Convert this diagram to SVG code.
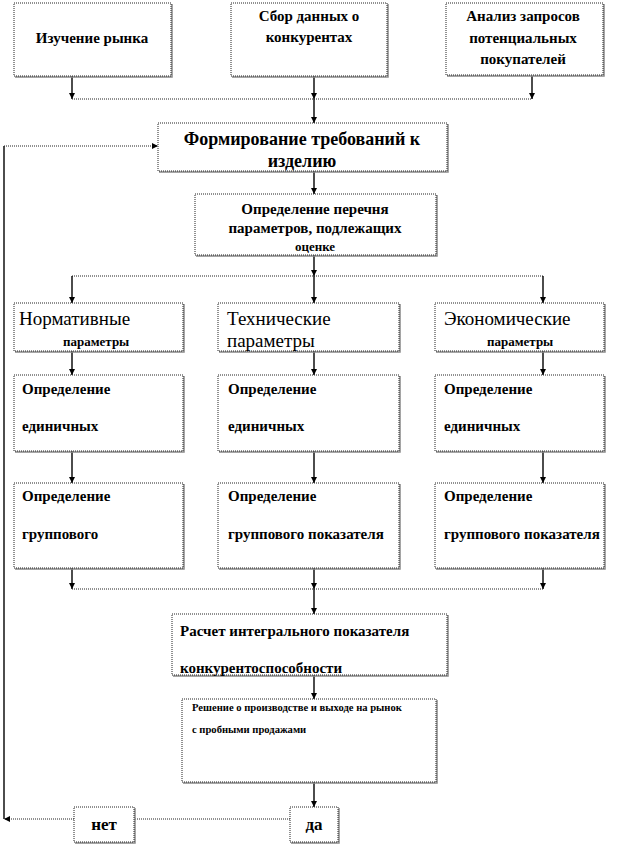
<svg xmlns="http://www.w3.org/2000/svg" width="617" height="846" viewBox="0 0 617 846">
<style>
.box{fill:#fff;stroke:#222;stroke-width:1;stroke-dasharray:1 1}
.sh{fill:none;stroke:#888;stroke-width:1.5}
.t{font-weight:bold}
.r{font-weight:normal}
.v{stroke:#000;stroke-width:1.4;fill:none}
.h{stroke:#222;stroke-width:1;stroke-dasharray:1 1;fill:none}
</style>
<defs>
<marker id="ah" viewBox="0 0 10 10" refX="10" refY="5" markerWidth="6" markerHeight="6" orient="auto" markerUnits="userSpaceOnUse">
<path d="M0,0 L10,5 L0,10 z" fill="#000"/>
</marker>
</defs>
<rect width="617" height="846" fill="#fff"/>

<g id="connectors">
<path class="v" d="M72,76 V99" marker-end="url(#ah)"/>
<path class="v" d="M314,76 V99" marker-end="url(#ah)"/>
<path class="v" d="M532,76 V99" marker-end="url(#ah)"/>
<path class="h" d="M72,99 H532"/>
<path class="v" d="M314,99 V123" marker-end="url(#ah)"/>
<path class="v" d="M314,171 V194" marker-end="url(#ah)"/>
<path class="v" d="M314,255 V276" marker-end="url(#ah)"/>
<path class="h" d="M72,276 H543"/>
<path class="v" d="M72,276 V303" marker-end="url(#ah)"/>
<path class="v" d="M314,276 V303" marker-end="url(#ah)"/>
<path class="v" d="M543,276 V303" marker-end="url(#ah)"/>
<path class="v" d="M72,351 V375" marker-end="url(#ah)"/>
<path class="v" d="M314,351 V375" marker-end="url(#ah)"/>
<path class="v" d="M543,351 V375" marker-end="url(#ah)"/>
<path class="v" d="M72,451 V483" marker-end="url(#ah)"/>
<path class="v" d="M314,451 V483" marker-end="url(#ah)"/>
<path class="v" d="M543,451 V483" marker-end="url(#ah)"/>
<path class="v" d="M72,568 V589" marker-end="url(#ah)"/>
<path class="v" d="M314,568 V589" marker-end="url(#ah)"/>
<path class="v" d="M543,568 V589" marker-end="url(#ah)"/>
<path class="h" d="M72,589 H543"/>
<path class="v" d="M314,589 V614" marker-end="url(#ah)"/>
<path class="v" d="M314,675 V699" marker-end="url(#ah)"/>
<path class="v" d="M314,782 V807" marker-end="url(#ah)"/>
<path class="h" d="M290,819 H134"/>
<path class="h" d="M74,819 H4" marker-end="url(#ah)"/>
<path class="v" d="M4,819 V146"/>
<path class="h" d="M4,146 H158" marker-end="url(#ah)"/>
</g>

<g font-family="Liberation Serif, Times New Roman, serif" fill="#000">
<g id="n1">
<path class="sh" d="M172,4 V77 H15"/>
<rect class="box" x="14" y="3" width="157" height="73"/>
<text class="t" x="92" y="43" font-size="15" text-anchor="middle">Изучение рынка</text>
</g>
<g id="n2">
<path class="sh" d="M388,4 V77 H232"/>
<rect class="box" x="231" y="3" width="156" height="73"/>
<text class="t" x="309" y="21" font-size="15" text-anchor="middle">Сбор данных о</text>
<text class="t" x="309" y="42" font-size="15" text-anchor="middle">конкурентах</text>
</g>
<g id="n3">
<path class="sh" d="M604,4 V76 H447"/>
<rect class="box" x="446" y="3" width="157" height="72"/>
<text class="t" x="523" y="21" font-size="15" text-anchor="middle">Анализ запросов</text>
<text class="t" x="523" y="43" font-size="15" text-anchor="middle">потенциальных</text>
<text class="t" x="523" y="64" font-size="15" text-anchor="middle">покупателей</text>
</g>
<g id="n4">
<path class="sh" d="M448,124 V172 H159"/>
<rect class="box" x="158" y="123" width="289" height="48"/>
<text class="t" x="302" y="145" font-size="18" text-anchor="middle">Формирование требований к</text>
<text class="t" x="302" y="167" font-size="18" text-anchor="middle">изделию</text>
</g>
<g id="n5">
<path class="sh" d="M437,195 V256 H196"/>
<rect class="box" x="195" y="194" width="241" height="61"/>
<text class="t" x="315" y="214" font-size="15" text-anchor="middle">Определение перечня</text>
<text class="t" x="315" y="233" font-size="15" text-anchor="middle">параметров, подлежащих</text>
<text class="t" x="315" y="251" font-size="13" text-anchor="middle">оценке</text>
</g>

<g id="n6">
<path class="sh" d="M184,304 V352 H15"/>
<rect class="box" x="14" y="303" width="169" height="48"/>
<text class="r" x="19" y="325" font-size="19">Нормативные</text>
<text class="t" x="63" y="346" font-size="13">параметры</text>
</g>
<g id="n7">
<path class="sh" d="M400,304 V352 H219"/>
<rect class="box" x="218" y="303" width="181" height="48"/>
<text class="r" x="227" y="325" font-size="19">Технические</text>
<text class="r" x="227" y="347" font-size="19">параметры</text>
</g>
<g id="n8">
<path class="sh" d="M605,304 V352 H436"/>
<rect class="box" x="435" y="303" width="169" height="48"/>
<text class="r" x="444" y="325" font-size="19">Экономические</text>
<text class="t" x="487" y="346" font-size="13">параметры</text>
</g>

<g id="n9">
<path class="sh" d="M184,376 V452 H15"/>
<rect class="box" x="14" y="375" width="169" height="76"/>
<text class="t" x="22" y="394" font-size="15">Определение</text>
<text class="t" x="22" y="431" font-size="15">единичных</text>
</g>
<g id="n10">
<path class="sh" d="M400,376 V452 H219"/>
<rect class="box" x="218" y="375" width="181" height="76"/>
<text class="t" x="228" y="394" font-size="15">Определение</text>
<text class="t" x="228" y="431" font-size="15">единичных</text>
</g>
<g id="n11">
<path class="sh" d="M605,376 V452 H436"/>
<rect class="box" x="435" y="375" width="169" height="76"/>
<text class="t" x="444" y="394" font-size="15">Определение</text>
<text class="t" x="444" y="431" font-size="15">единичных</text>
</g>

<g id="n12">
<path class="sh" d="M184,484 V569 H15"/>
<rect class="box" x="14" y="483" width="169" height="85"/>
<text class="t" x="22" y="501" font-size="15">Определение</text>
<text class="t" x="22" y="539" font-size="15">группового</text>
</g>
<g id="n13">
<path class="sh" d="M400,484 V569 H219"/>
<rect class="box" x="218" y="483" width="181" height="85"/>
<text class="t" x="228" y="501" font-size="15">Определение</text>
<text class="t" x="228" y="539" font-size="15">группового показателя</text>
</g>
<g id="n14">
<path class="sh" d="M605,484 V569 H436"/>
<rect class="box" x="435" y="483" width="169" height="85"/>
<text class="t" x="444" y="501" font-size="15">Определение</text>
<text class="t" x="444" y="539" font-size="15">группового показателя</text>
</g>

<g id="n15">
<path class="sh" d="M448,615 V676 H173"/>
<rect class="box" x="172" y="614" width="275" height="61"/>
<text class="t" x="180" y="636" font-size="15">Расчет интегрального показателя</text>
<text class="t" x="180" y="673" font-size="15">конкурентоспособности</text>
</g>
<g id="n16">
<path class="sh" d="M437,700 V783 H183"/>
<rect class="box" x="182" y="699" width="254" height="83"/>
<text class="t" x="192" y="711" font-size="10.6">Решение о производстве и выходе на рынок</text>
<text class="t" x="192" y="733" font-size="10.6">с пробными продажами</text>
</g>
<g id="n17">
<path class="sh" d="M135,808 V843 H75"/>
<rect class="box" x="74" y="807" width="60" height="35"/>
<text class="t" x="104" y="830" font-size="17" text-anchor="middle">нет</text>
</g>
<g id="n18">
<path class="sh" d="M339,808 V843 H291"/>
<rect class="box" x="290" y="807" width="48" height="35"/>
<text class="t" x="314" y="830" font-size="17" text-anchor="middle">да</text>
</g>
</g>
</svg>
